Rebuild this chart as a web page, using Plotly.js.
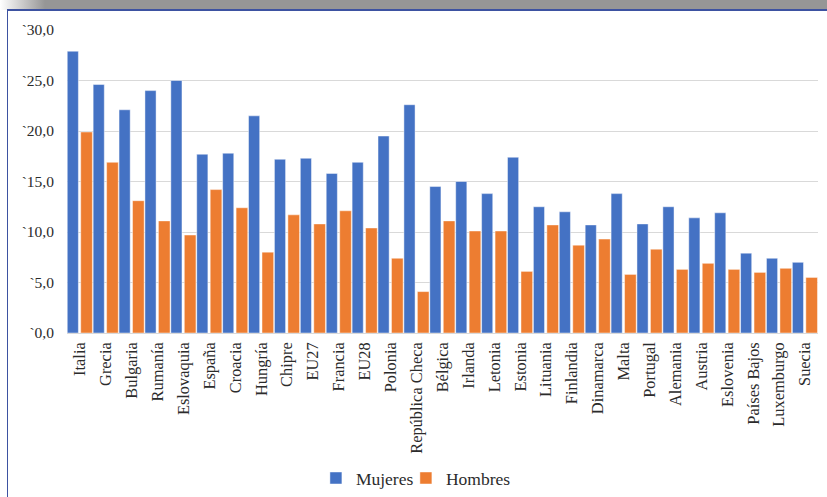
<!DOCTYPE html>
<html>
<head>
<meta charset="utf-8">
<script src="https://cdn.plot.ly/plotly-3.0.1.min.js"></script>
<style>
  html, body { margin: 0; padding: 0; background: #ffffff; }
  #wrap { position: relative; width: 827px; height: 497px; overflow: hidden; background: #ffffff; }
  #topbar { position: absolute; left: 0; top: 0; width: 827px; height: 10px;
    background: linear-gradient(to right, rgba(255,255,255,1) 0px, rgba(150,150,150,1) 45px, rgba(150,150,150,1) 100%); }
  #topline { position: absolute; left: 7px; top: 9px; width: 820px; height: 2px; background: #3d52a1; }
  #leftline { position: absolute; left: 7px; top: 9px; width: 1px; height: 488px; background: #3d52a1; }
  #chart { position: absolute; left: 0; top: 0; width: 827px; height: 497px; }
</style>
</head>
<body>
<div id="wrap">
  <div id="topbar"></div>
  <div id="topline"></div>
  <div id="leftline"></div>
  <div id="chart"></div>
</div>
<script>
const categories = ["Italia", "Grecia", "Bulgaria", "Rumanía", "Eslovaquia", "España", "Croacia", "Hungría", "Chipre", "EU27", "Francia", "EU28", "Polonia", "República Checa", "Bélgica", "Irlanda", "Letonia", "Estonia", "Lituania", "Finlandia", "Dinamarca", "Malta", "Portugal", "Alemania", "Austria", "Eslovenia", "Países Bajos", "Luxemburgo", "Suecia"];
const mujeres = [27.9, 24.6, 22.1, 24.0, 25.0, 17.7, 17.8, 21.5, 17.2, 17.3, 15.8, 16.9, 19.5, 22.6, 14.5, 15.0, 13.8, 17.4, 12.5, 12.0, 10.7, 13.8, 10.8, 12.5, 11.4, 11.9, 7.9, 7.4, 7.0];
const hombres = [19.9, 16.9, 13.1, 11.1, 9.7, 14.2, 12.4, 8.0, 11.7, 10.8, 12.1, 10.4, 7.4, 4.1, 11.1, 10.1, 10.1, 6.1, 10.7, 8.7, 9.3, 5.8, 8.3, 6.3, 6.9, 6.3, 6.0, 6.4, 5.5];
const yTicks = [0, 5, 10, 15, 20, 25, 30];
const yTickLabels = ["`0,0", "`5,0", "`10,0", "`15,0", "`20,0", "`25,0", "`30,0"];

const FONT = 'Liberation Serif, Times New Roman, serif';
const TEXT = '#2b2b2b';

const data = [
  {
    type: 'bar', name: 'Mujeres', x: categories, y: mujeres,
    offset: -0.49, width: 0.43, legend: 'legend',
    marker: { color: '#4472C4', line: { color: 'rgba(255,255,255,0.45)', width: 1 } },
    hoverinfo: 'x+y'
  },
  {
    type: 'bar', name: 'Hombres', x: categories, y: hombres,
    offset: 0.03, width: 0.45, legend: 'legend2',
    marker: { color: '#ED7D31', line: { color: 'rgba(255,255,255,0.45)', width: 1 } },
    hoverinfo: 'x+y'
  }
];

const legendStyle = (x) => ({
  orientation: 'h', xref: 'container', x: x, xanchor: 'left',
  yref: 'container', y: 0.038, yanchor: 'middle',
  font: { family: FONT, size: 17.5, color: TEXT },
  itemwidth: 30, bgcolor: 'rgba(0,0,0,0)'
});

const layout = {
  width: 827, height: 497,
  margin: { l: 67, r: 9, t: 30, b: 164 },
  paper_bgcolor: 'rgba(0,0,0,0)',
  plot_bgcolor: 'rgba(0,0,0,0)',
  barmode: 'overlay',
  font: { family: FONT, color: TEXT, size: 16 },
  showlegend: true,
  legend: legendStyle(0.382),
  legend2: legendStyle(0.4908),
  xaxis: {
    type: 'category', range: [-0.5, 28.5], automargin: false,
    tickangle: -90, tickfont: { family: FONT, size: 16.4, color: TEXT },
    showgrid: false, showline: false, zeroline: false, ticks: '', ticklabelstandoff: 5
  },
  yaxis: {
    range: [0, 30], automargin: false, tickmode: 'array', tickvals: yTicks, ticktext: yTickLabels,
    tickfont: { family: FONT, size: 15.5, color: TEXT },
    showgrid: true, gridcolor: '#d9d9d9', gridwidth: 1,
    zeroline: true, zerolinecolor: '#d9d9d9', zerolinewidth: 1,
    showline: false, ticks: '', ticklabelstandoff: 12
  }
};

Plotly.newPlot('chart', data, layout, { displayModeBar: false, staticPlot: true });
</script>
</body>
</html>
